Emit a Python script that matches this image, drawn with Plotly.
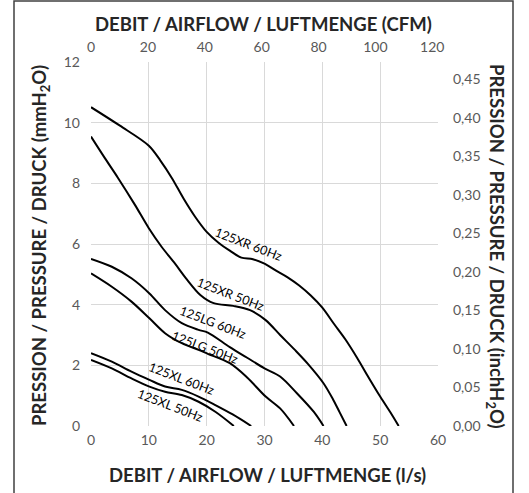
import plotly.graph_objects as go

# ---- data (flow l/s, pressure mmH2O) ----
xr60_q = [0, 5, 10, 12, 14, 16, 18, 20, 22, 24, 26, 28, 30, 32, 34, 36, 38, 40, 42, 44, 46, 48, 50, 52, 53.2]
xr60_p = [10.51, 9.9, 9.24, 8.75, 8.17, 7.5, 6.9, 6.4, 6.05, 5.78, 5.55, 5.5, 5.35, 5.12, 4.9, 4.63, 4.3, 3.9, 3.37, 2.85, 2.25, 1.6, 0.97, 0.38, 0]

xr50_q = [0, 2.4, 4.7, 7.6, 10, 12.2, 14.5, 16.5, 18.9, 21.2, 24.6, 27.5, 30.2, 32.7, 35.3, 37.5, 40.2, 41.9, 43, 44.2]
xr50_p = [9.54, 8.83, 8.17, 7.29, 6.52, 5.91, 5.36, 4.85, 4.32, 4.05, 3.96, 3.82, 3.49, 3.0, 2.5, 2.05, 1.41, 0.86, 0.45, 0]

lg60_q = [0, 3.6, 7, 10.1, 12.8, 15.7, 18.6, 20.2, 24, 27, 30, 32.7, 35.6, 38.5, 40.2]
lg60_p = [5.51, 5.25, 4.87, 4.37, 3.82, 3.39, 3.17, 3.08, 2.6, 2.25, 1.9, 1.63, 1.08, 0.47, 0]

lg50_q = [0, 3.6, 7, 10.1, 12.8, 15.7, 18.6, 20.2, 24, 27, 30.2, 32.7, 35.1]
lg50_p = [5.03, 4.59, 4.1, 3.55, 3.06, 2.73, 2.51, 2.38, 2.07, 1.6, 0.97, 0.58, 0]

xl60_q = [0, 3.6, 7, 10.1, 12.8, 15.7, 18.6, 21.5, 24.5, 27.7]
xl60_p = [2.4, 2.12, 1.79, 1.52, 1.3, 1.19, 0.97, 0.69, 0.38, 0]

xl50_q = [0, 3.6, 7, 10.1, 12.8, 15.7, 18.6, 21.5, 24.7]
xl50_p = [2.18, 1.9, 1.57, 1.3, 1.13, 1.02, 0.8, 0.47, 0]

series_names = ["125XR 60Hz", "125XR 50Hz", "125LG 60Hz", "125LG 50Hz", "125XL 60Hz", "125XL 50Hz"]

x_ticks = [0, 10, 20, 30, 40, 50, 60]
y_ticks = [0, 2, 4, 6, 8, 10, 12]
cfm_ticks = [0, 20, 40, 60, 80, 100, 120]
inch_ticks = [0.00, 0.05, 0.10, 0.15, 0.20, 0.25, 0.30, 0.35, 0.40, 0.45]
inch_labels = [f"{v:.2f}".replace(".", ",") for v in inch_ticks]

FONT = "Lato"
TICKC = "#595959"
GRID = "#d9d9d9"

fig = go.Figure()
for q, p, name in [(xr60_q, xr60_p, series_names[0]), (xr50_q, xr50_p, series_names[1]),
                   (lg60_q, lg60_p, series_names[2]), (lg50_q, lg50_p, series_names[3]),
                   (xl60_q, xl60_p, series_names[4]), (xl50_q, xl50_p, series_names[5])]:
    fig.add_trace(go.Scatter(x=q, y=p, mode="lines", name=name,
                             line=dict(color="black", width=2, shape="spline", smoothing=0.9),
                             hoverinfo="skip", showlegend=False))

# invisible trace for secondary axes
fig.add_trace(go.Scatter(x=[0], y=[0], xaxis="x2", yaxis="y2", mode="markers",
                         marker=dict(opacity=0), showlegend=False, hoverinfo="skip"))

W, H = 529, 493
L, R, T, B = 91, 91, 62, 67

axis_common = dict(showline=False, zeroline=False, ticks="", automargin=False,
                   tickfont=dict(family=FONT, size=14, color=TICKC))

fig.update_layout(
    width=W, height=H,
    margin=dict(l=L, r=R, t=T, b=B, pad=0, autoexpand=False),
    paper_bgcolor="white", plot_bgcolor="white",
    xaxis=dict(range=[0, 60], tickvals=x_ticks, showgrid=True, gridcolor=GRID, gridwidth=1,
               ticklabelstandoff=4, **axis_common),
    yaxis=dict(range=[0, 12], tickvals=y_ticks, showgrid=True, gridcolor=GRID, gridwidth=1,
               ticklabelstandoff=10, **axis_common),
    xaxis2=dict(range=[0, 122], tickvals=cfm_ticks, overlaying="x", side="top", anchor="y",
                showgrid=False, ticklabelstandoff=6, **axis_common),
    yaxis2=dict(range=[0, 12 / 25.4], tickvals=inch_ticks, ticktext=inch_labels,
                overlaying="y", side="right", anchor="x", showgrid=False,
                ticklabelstandoff=14, **axis_common),
)

pw, ph = W - L - R, H - T - B

def px_to_paper(x, y):
    return (x - L) / pw, (H - T - y) / ph

# outer frame of the chart
x0, y1 = px_to_paper(14, 6)
x1, y0 = px_to_paper(513, 505)
fig.add_shape(type="rect", xref="paper", yref="paper", x0=x0, x1=x1, y0=y0, y1=y1,
              line=dict(color="#404040", width=1.5), fillcolor="rgba(0,0,0,0)", layer="above")

title_font = dict(family=FONT, size=18.5, color="#262626")
ann = []
x, y = px_to_paper(263, 29)
ann.append(dict(text="<b>DEBIT / AIRFLOW / LUFTMENGE (CFM)</b>", x=x, y=y))
x, y = px_to_paper(267, 480)
ann.append(dict(text="<b>DEBIT / AIRFLOW / LUFTMENGE (l/s)</b>", x=x, y=y))
x, y = px_to_paper(40, 251)
ann.append(dict(text="<b>PRESSION / PRESSURE / DRUCK (mmH<sub>2</sub>O)</b>", x=x, y=y, textangle=-90))
x, y = px_to_paper(496, 251)
ann.append(dict(text="<b>PRESSION / PRESSURE / DRUCK (inchH<sub>2</sub>O)</b>", x=x, y=y, textangle=90))
for a in ann:
    fig.add_annotation(xref="paper", yref="paper", showarrow=False, font=title_font,
                       xanchor="center", yanchor="middle", **a)

# curve labels
label_pos = [(27.3, 5.97), (24.2, 4.32), (21.1, 3.40), (19.7, 2.59), (15.6, 1.55), (13.75, 0.69)]
for name, (lx, ly) in zip(series_names, label_pos):
    fig.add_annotation(x=lx, y=ly, xref="x", yref="y", text=name, showarrow=False,
                       textangle=21, font=dict(family=FONT, size=12.5, color="black"),
                       xanchor="center", yanchor="middle")

fig.write_html("out.html", config={"displayModeBar": False},
               post_script="document.body.style.margin='0';document.body.style.overflow='hidden';")
